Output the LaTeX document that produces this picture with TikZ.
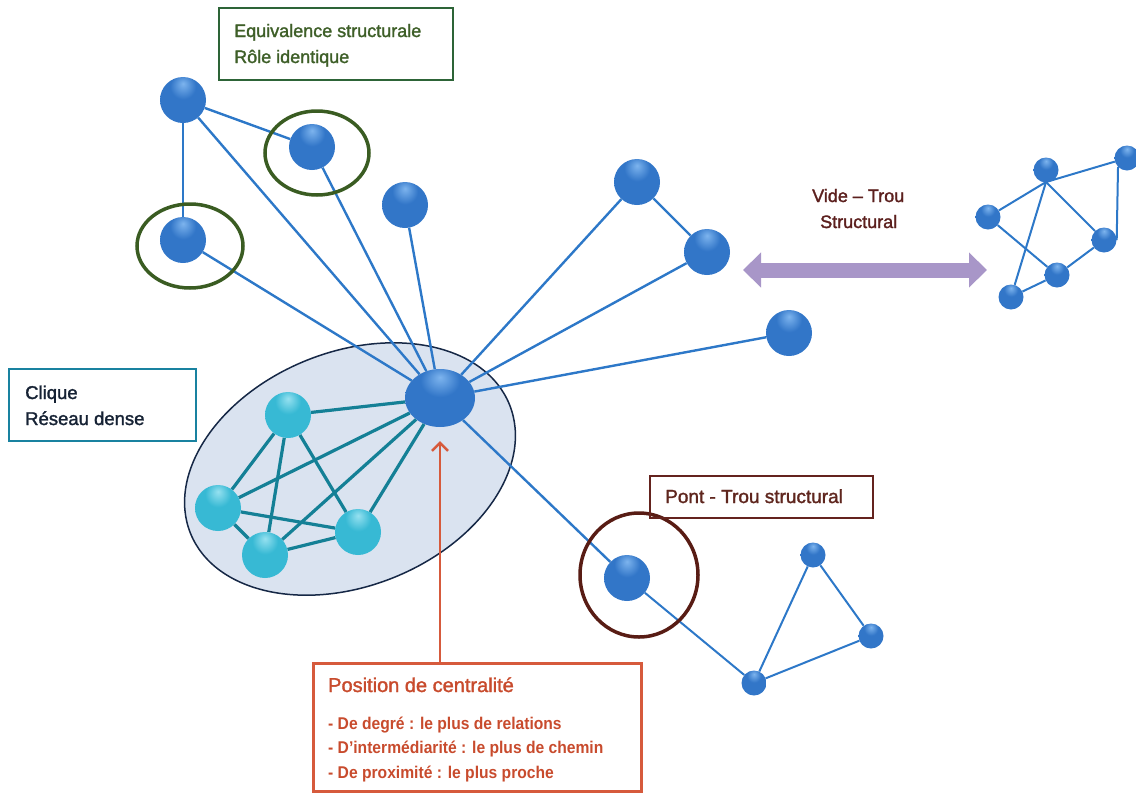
\documentclass[tikz,border=0pt]{standalone}
\usepackage{fontspec}
\setmainfont{Liberation Sans}
\newfontfamily\narrowfont[FakeStretch=0.92]{Liberation Sans}
\newfontfamily\labelfont[FakeBold=1.6]{Liberation Sans}
\usetikzlibrary{arrows.meta,shapes.geometric}
\definecolor{bhl}{RGB}{125,180,238}
\definecolor{bmid}{RGB}{50,118,200}
\definecolor{bdark}{RGB}{28,84,160}
\definecolor{chl}{RGB}{150,225,240}
\definecolor{cmid}{RGB}{55,185,212}
\definecolor{cdark}{RGB}{25,130,165}
\definecolor{lineblue}{RGB}{45,120,200}
\definecolor{tealline}{RGB}{20,128,150}
\definecolor{ringgreen}{RGB}{58,92,34}
\definecolor{ringbrown}{RGB}{88,28,20}
\definecolor{eqtext}{RGB}{62,95,40}
\definecolor{eqframe}{RGB}{45,100,55}
\definecolor{cliqueframe}{RGB}{25,130,160}
\definecolor{cliquetext}{RGB}{22,34,52}
\definecolor{pontframe}{RGB}{100,35,30}
\definecolor{ponttext}{RGB}{95,38,30}
\definecolor{posred}{RGB}{214,90,60}
\definecolor{postext}{RGB}{200,75,45}
\definecolor{videtext}{RGB}{92,32,30}
\definecolor{lavender}{RGB}{168,150,200}
\definecolor{ellfill}{RGB}{218,227,240}
\definecolor{ellframe}{RGB}{22,40,70}
\pgfdeclareradialshading{blueballsh}{\pgfpoint{0bp}{18bp}}{color(0bp)=(bhl); color(14bp)=(bmid); color(48bp)=(bmid); color(68bp)=(bdark); color(80bp)=(bdark)}
\pgfdeclareradialshading{cyanballsh}{\pgfpoint{0bp}{18bp}}{color(0bp)=(chl); color(14bp)=(cmid); color(48bp)=(cmid); color(68bp)=(cdark); color(80bp)=(cdark)}
\pgfdeclarelayer{bg}
\pgfdeclarelayer{edges}
\pgfsetlayers{bg,edges,main}
\begin{document}
\begin{tikzpicture}[x=1pt,y=-1pt,
  bigball/.style={circle,minimum size=46pt,inner sep=0pt,shading=blueballsh},
  smallball/.style={circle,minimum size=25pt,inner sep=0pt,shading=blueballsh},
  cball/.style={circle,minimum size=46pt,inner sep=0pt,shading=cyanballsh},
  bluel/.style={draw=lineblue,line width=2.4pt},
  thinl/.style={draw=lineblue,line width=2pt},
  teall/.style={draw=tealline,line width=3.2pt},
  greenring/.style={draw=ringgreen,line width=3.5pt},
  lbl/.style={anchor=base west,inner sep=0pt},
]
\useasboundingbox (0,0) rectangle (1136,793);

% big clique ellipse
\begin{pgfonlayer}{bg}
\draw[ellframe,line width=1.5pt,fill=ellfill,rotate around={22:(350,469)}]
  (350,469) ellipse [x radius=172pt, y radius=117pt];
\end{pgfonlayer}

% nodes
\node[bigball] (A) at (183,100) {};
\node[bigball] (B) at (312,147) {};
\node[bigball] (C) at (183,240) {};
\node[bigball] (D) at (405,205) {};
\node[bigball] (E) at (637,182) {};
\node[bigball] (F) at (707,252) {};
\node[bigball] (G) at (789,333) {};
\node[ellipse,minimum width=70pt,minimum height=58pt,inner sep=0pt,shading=blueballsh] (H) at (440,398) {};
\node[cball] (K1) at (288,415) {};
\node[cball] (K2) at (218,508) {};
\node[cball] (K3) at (265,555) {};
\node[cball] (K4) at (358,532) {};
\node[bigball] (P) at (627,578) {};
\node[smallball] (T1) at (754,683) {};
\node[smallball] (T2) at (813,555) {};
\node[smallball] (T3) at (871,636) {};
\node[smallball] (R1) at (1046,170) {};
\node[smallball] (R2) at (1127,158) {};
\node[smallball] (R3) at (988,217) {};
\node[smallball] (R4) at (1104,240) {};
\node[smallball] (R5) at (1057,275) {};
\node[smallball] (R6) at (1011,297) {};
\coordinate (rj) at (1046,182);

% edges
\begin{pgfonlayer}{edges}
\foreach \a/\b in {A/B,A/C,A/H,B/H,C/H,D/H,E/H,E/F,F/H,G/H,H/P}
  \draw[bluel] (\a) -- (\b);
\foreach \a/\b in {P/T1,T1/T2,T2/T3,T3/T1,R3/rj,rj/R2,rj/R6,rj/R4,R4/R5,R3/R5,R5/R6}
  \draw[thinl] (\a) -- (\b);
\draw[thinl] (R2.south west) -- (R4.east);
\foreach \a/\b in {K1/H,K1/K2,K1/K3,K1/K4,K2/H,K2/K3,K2/K4,K3/H,K3/K4,K4/H}
  \draw[teall] (\a) -- (\b);
\end{pgfonlayer}

% rings
\draw[greenring] (317,153) ellipse [x radius=52pt, y radius=42pt];
\draw[greenring] (190,246) ellipse [x radius=53pt, y radius=42pt];
\draw[draw=ringbrown,line width=3.5pt] (639,575) ellipse [x radius=59pt, y radius=62pt];

% Equivalence box
\node[draw=eqframe,line width=2pt,minimum width=234pt,minimum height=72pt,anchor=north west,inner sep=0pt] (eqbox) at (218,7) {};
\node[lbl,text=eqtext,font=\labelfont\fontsize{18}{22}\selectfont] (eq1) at (234,37) {Equivalence structurale};
\node[lbl,text=eqtext,font=\labelfont\fontsize{18}{22}\selectfont] (eq2) at (234,63) {Rôle identique};

% Clique box
\node[draw=cliqueframe,line width=2pt,minimum width=187pt,minimum height=72pt,anchor=north west,inner sep=0pt] (clbox) at (8,368) {};
\node[lbl,text=cliquetext,font=\labelfont\fontsize{18.5}{22}\selectfont] (cl1) at (25,399) {Clique};
\node[lbl,text=cliquetext,font=\labelfont\fontsize{18.5}{22}\selectfont] (cl2) at (25,425) {Réseau dense};

% Pont box
\node[draw=pontframe,line width=2pt,minimum width=223pt,minimum height=42pt,anchor=north west,inner sep=0pt] (pontbox) at (649,475) {};
\node[lbl,text=ponttext,font=\labelfont\fontsize{19}{22}\selectfont] (pont) at (665,503) {Pont - Trou structural};

% Vide label
\node[lbl,text=videtext,font=\labelfont\fontsize{18}{22}\selectfont] (vide1) at (812,202) {Vide – Trou};
\node[lbl,text=videtext,font=\labelfont\fontsize{18}{22}\selectfont] (vide2) at (820,228) {Structural};

% lavender double arrow
\coordinate (va) at (743,270);
\coordinate (vb) at (987,270);
\draw[lavender,line width=15pt,{Triangle[width=34pt,length=18pt]}-{Triangle[width=34pt,length=18pt]}] (va) -- (vb);

% Position box
\node[draw=posred,line width=2.5pt,minimum width=328pt,minimum height=128pt,anchor=north west,inner sep=0pt] (posbox) at (312,662) {};
\node[lbl,text=postext,font=\labelfont\fontsize{20}{24}\selectfont] (pos0) at (328,692) {Position de centralité};
\node[lbl,text=postext,font=\narrowfont\bfseries\fontsize{17}{20}\selectfont] (pos1) at (328,729) {- De degré : le plus de relations};
\node[lbl,text=postext,font=\narrowfont\bfseries\fontsize{17}{20}\selectfont] (pos2) at (328,753) {- D’intermédiarité : le plus de chemin};
\node[lbl,text=postext,font=\narrowfont\bfseries\fontsize{17}{20}\selectfont] (pos3) at (328,778) {- De proximité : le plus proche};

% red arrow
\draw[posred,line width=2.5pt,-{Straight Barb[length=8pt,width=16pt]},shorten >=14pt] (H.south |- posbox.north) -- (H.south);
\end{tikzpicture}
\end{document}
